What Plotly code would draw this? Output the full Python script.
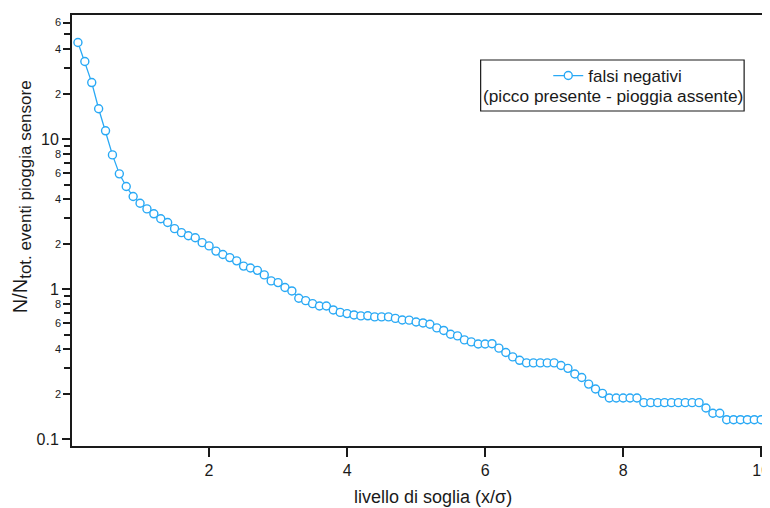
import math
import plotly.graph_objects as go

# ---- data ----
soglia = [round(0.1 * i, 1) for i in range(1, 101)]
falsi_negativi = [
    44.2, 33.0, 23.9, 16.0, 11.4, 7.88, 5.89, 4.85, 4.16, 3.75,
    3.44, 3.19, 2.96, 2.79, 2.54, 2.39, 2.28, 2.21, 2.05, 1.95,
    1.80, 1.71, 1.63, 1.55, 1.43, 1.39, 1.34, 1.25, 1.14, 1.11,
    1.03, 0.977, 0.874, 0.842, 0.804, 0.776, 0.776, 0.730, 0.703, 0.690,
    0.676, 0.666, 0.667, 0.656, 0.656, 0.656, 0.641, 0.626, 0.624, 0.607,
    0.598, 0.586, 0.554, 0.533, 0.503, 0.490, 0.461, 0.447, 0.433, 0.433,
    0.435, 0.406, 0.380, 0.355, 0.337, 0.324, 0.324, 0.324, 0.324, 0.324,
    0.311, 0.298, 0.273, 0.259, 0.234, 0.217, 0.203, 0.189, 0.189, 0.189,
    0.189, 0.189, 0.176, 0.176, 0.176, 0.176, 0.176, 0.176, 0.176, 0.176,
    0.176, 0.162, 0.1495, 0.1495, 0.1355, 0.1355, 0.1355, 0.1355, 0.1355, 0.1355,
]
x_ticks = [2, 4, 6, 8, 10]
y_major = [0.1, 1, 10]
y_major_text = ["0.1", "1", "10"]
y_labeled_minor = [0.2, 0.4, 0.6, 0.8, 2, 4, 6, 8, 20, 40, 60]
y_labeled_minor_text = ["2", "4", "6", "8", "2", "4", "6", "8", "2", "4", "6"]
y_unlabeled = [0.3, 0.5, 0.7, 0.9, 3, 5, 7, 9, 30, 50]

series_name = "falsi negativi"
legend_line2 = "(picco presente - pioggia assente)"
x_title = "livello di soglia (x/σ)"
y_title = ("N/N<sub><span style='font-size:17px'>"
           "tot. eventi pioggia sensore</span></sub>")

BLUE = "#29A9F5"
FONT = "Liberation Sans, Arial, sans-serif"
INK = "#1a1a1a"

# the page body has an 8px margin; the figure is sized to compensate
OFF = 8
WIN_W, WIN_H = 770, 508
W, H = WIN_W - OFF, WIN_H - OFF
ML, MR, MT, MB = 72 - OFF, 0, 15 - OFF, 62
PW, PH = W - ML - MR, H - MT - MB

def px_x(p):  # window pixel -> paper
    return (p - OFF - ML) / PW

def px_y(p):
    return (H - MB - (p - OFF)) / PH

yr = [math.log10(0.0905), math.log10(67.4)]

fig = go.Figure()
fig.add_trace(go.Scatter(
    x=soglia, y=falsi_negativi, mode="lines+markers", name=series_name,
    line=dict(color=BLUE, width=1.3),
    marker=dict(symbol="circle", size=8, color="white",
                line=dict(color=BLUE, width=1.4)),
))
# empty helper trace so the decade-tick axis is drawn
fig.add_trace(go.Scatter(x=[], y=[], yaxis="y2", showlegend=False,
                         hoverinfo="skip"))

fig.update_layout(
    width=W, height=H, autosize=False,
    margin=dict(l=ML, r=MR, t=MT, b=MB),
    paper_bgcolor="white", plot_bgcolor="white",
    font=dict(family=FONT, color=INK),
    showlegend=True,
    legend=dict(x=px_x(551), y=px_y(58), xanchor="left", yanchor="top",
                bgcolor="rgba(0,0,0,0)", borderwidth=0,
                font=dict(size=17, family=FONT, color=INK)),
    xaxis=dict(range=[0.014, 10.07], tickmode="array", tickvals=x_ticks,
               ticktext=[str(v) for v in x_ticks],
               ticks="outside", ticklen=9, tickwidth=1.5, tickcolor=INK,
               showline=True, linewidth=1.5, linecolor=INK, mirror=True,
               showgrid=False, zeroline=False,
               tickfont=dict(size=16, family=FONT, color=INK),
               ticklabeloverflow="allow"),
    yaxis=dict(type="log", range=yr, tickmode="array",
               tickvals=y_labeled_minor, ticktext=y_labeled_minor_text,
               ticks="outside", ticklen=7, tickwidth=1.5, tickcolor=INK,
               showline=True, linewidth=1.5, linecolor=INK,
               showgrid=False, zeroline=False,
               tickfont=dict(size=11, family=FONT, color=INK),
               minor=dict(tickmode="array", tickvals=y_unlabeled,
                          ticks="outside", ticklen=6, tickwidth=1.5,
                          tickcolor=INK, showgrid=False)),
    yaxis2=dict(type="log", range=yr, overlaying="y", side="left",
                anchor="x", tickmode="array", tickvals=y_major,
                ticktext=y_major_text, ticks="outside", ticklen=9,
                tickwidth=1.5, tickcolor=INK, showline=False,
                showgrid=False, zeroline=False,
                tickfont=dict(size=16, family=FONT, color=INK)),
)

# legend frame and second legend line
fig.add_shape(type="rect", xref="paper", yref="paper",
              x0=px_x(483), x1=px_x(748), y0=px_y(111), y1=px_y(60),
              line=dict(color=INK, width=1.2), fillcolor="rgba(0,0,0,0)")
fig.add_annotation(xref="paper", yref="paper", x=px_x(616), y=px_y(96),
                   text=legend_line2, showarrow=False, xanchor="center",
                   yanchor="middle", font=dict(size=17.3, family=FONT, color=INK))

# axis titles
fig.add_annotation(xref="paper", yref="paper", x=px_x(435), y=px_y(497),
                   text=x_title, showarrow=False, xanchor="center",
                   yanchor="middle", font=dict(size=18, family=FONT, color=INK))
fig.add_annotation(xref="paper", yref="paper", x=px_x(22), y=px_y(197),
                   text=y_title, showarrow=False, textangle=-90,
                   xanchor="center", yanchor="middle",
                   font=dict(size=20, family=FONT, color=INK))

fig.write_html("out.html")
